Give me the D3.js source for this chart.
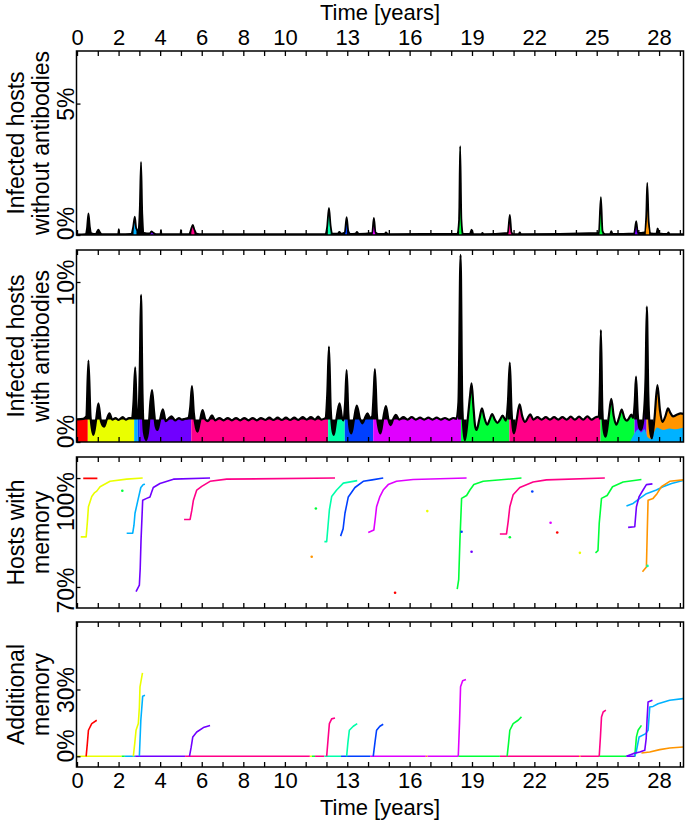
<!DOCTYPE html>
<html><head><meta charset="utf-8">
<script src="https://cdn.jsdelivr.net/npm/d3@7"></script>
<style>
body{margin:0;background:#fff;}
svg{display:block;font-family:"Liberation Sans",Arial,Helvetica,sans-serif;}
</style></head><body>
<svg id="c" width="685" height="822"></svg>
<script>
// ---------------- DATA ----------------
const C = {red:"#ff0000", yellow:"#eaff00", cyan:"#00b2ff", blue:"#0040ff", violet:"#7000ff",
  pink:"#ff0088", aqua:"#00ffaa", magenta:"#e000ff", green:"#00ff38", orange:"#ff9500"};

const xTickLabels = [0,2,4,6,8,10,13,16,19,22,25,28];
const xTickYears = [0,1,2,3,4,5,6,7,8,9,10,11,12,13,14,15,16,17,18,19,20,21,22,23,24,25,26,27,28,29];

// Panel 1: infected hosts without antibodies (%)
const p1Time = [0,0.40,0.48,0.55,0.62,0.70,0.90,0.98,1.03,1.09,1.2,1.98,2.01,2.04,2.6,2.70,2.78,2.85,2.95,3.02,3.08,3.14,3.22,3.5,3.58,3.65,3.8,4.02,4.04,4.06,4.98,5.0,5.02,5.4,5.5,5.57,5.65,5.75,6.0,
 11.95,12.03,12.12,12.2,12.3,12.55,12.62,12.7,12.88,12.97,13.05,13.15,13.4,13.47,13.55,14.2,14.28,14.36,14.5,14.8,14.86,14.95,
 18.3,18.38,18.43,18.49,18.56,18.9,18.98,19.06,19.45,19.5,19.56,20.72,20.82,20.9,21.0,21.25,21.3,21.36,
 25.1,25.2,25.28,25.4,25.65,25.7,25.76,26.8,26.9,26.98,27.3,27.38,27.43,27.5,27.6,27.87,27.93,28.0,28.4,28.45,28.5,29.2];
const p1Value = [0.02,0.03,0.25,0.82,0.3,0.06,0.04,0.15,0.2,0.12,0.03,0.03,0.22,0.03,0.04,0.3,0.7,0.25,0.15,1.0,2.78,0.8,0.08,0.06,0.14,0.1,0.03,0.03,0.19,0.03,0.03,0.19,0.03,0.04,0.25,0.38,0.2,0.05,0.03,
 0.03,0.3,1.03,0.35,0.05,0.05,0.12,0.05,0.1,0.68,0.15,0.04,0.05,0.12,0.04,0.08,0.65,0.1,0.04,0.04,0.1,0.03,
 0.05,0.6,3.38,0.6,0.05,0.04,0.2,0.04,0.03,0.08,0.03,0.08,0.76,0.1,0.03,0.04,0.1,0.03,
 0.08,1.44,0.15,0.03,0.04,0.15,0.04,0.06,0.53,0.08,0.1,0.7,1.98,0.5,0.06,0.05,0.25,0.06,0.04,0.1,0.04,0.03];
const p1SegStart = [2.72,3.5,5.5,12.05,12.9,14.22,18.38,20.75,25.13,26.84,27.36];
const p1SegEnd   = [2.86,3.7,5.65,12.2,13.05,14.35,18.5,20.9,25.28,26.97,27.52];
const p1SegColor = [C.cyan,C.violet,C.pink,C.aqua,C.blue,C.magenta,C.green,C.pink,C.green,C.violet,C.orange];

// Panel 2: infected hosts with antibodies (%)
const p2Time = [0.0,0.3,0.45,0.55,0.65,0.79,0.92,1.03,1.15,1.3,1.43,1.56,1.7,1.85,2.0,2.2,2.35,2.5,2.65,2.72,2.8,2.88,2.95,3.02,3.08,3.15,3.22,3.33,3.45,3.53,3.61,3.7,3.78,3.87,3.98,4.13,4.27,4.4,4.55,4.72,4.9,5.05,5.2,5.35,5.45,5.53,5.62,5.72,5.8,5.9,6.04,6.18,6.3,6.49,6.65,6.85,7.05,7.25,7.45,7.65,7.85,8.05,8.25,8.45,8.65,8.85,9.05,9.25,9.45,9.65,9.85,10.05,10.25,10.45,10.65,10.85,11.05,11.25,11.45,11.6,11.75,11.95,
 12.04,12.12,12.2,12.28,12.35,12.45,12.63,12.75,12.82,12.9,12.97,13.05,13.12,13.2,13.32,13.46,13.6,13.73,13.85,13.97,14.1,14.2,14.27,14.33,14.42,14.52,14.6,14.72,14.86,14.98,15.09,15.2,15.34,15.5,15.7,15.9,16.1,16.3,16.5,16.7,16.9,17.1,17.3,17.5,17.7,17.9,18.1,18.25,
 18.35,18.45,18.53,18.6,18.66,18.8,18.9,18.98,19.07,19.15,19.22,19.35,19.48,19.6,19.73,19.85,19.97,20.1,20.22,20.35,20.47,20.63,20.73,20.82,20.9,20.96,21.02,21.15,21.29,21.42,21.55,21.68,21.8,21.95,22.15,22.35,22.55,22.75,22.95,23.15,23.35,23.55,23.75,23.95,24.15,24.35,24.55,24.75,24.95,
 25.1,25.15,25.2,25.27,25.35,25.43,25.57,25.7,25.82,25.94,26.07,26.2,26.33,26.45,26.56,26.66,26.75,26.83,26.89,26.97,27.05,27.13,27.25,27.35,27.41,27.48,27.56,27.65,27.78,27.92,28.04,28.16,28.3,28.43,28.55,28.67,28.85,29.04,29.2];
const p2Value = [1.42,1.45,1.6,5.08,1.6,0.44,1.4,2.42,1.3,0.96,1.4,1.79,1.4,1.5,1.38,1.55,1.4,1.5,1.5,2.5,4.67,1.8,1.6,4.5,9.19,3.0,0.6,0.12,1.0,2.5,3.25,2.0,1.0,0.75,1.3,2.04,1.3,1.45,1.6,1.35,1.5,1.4,1.45,1.5,2.2,3.5,1.8,0.9,0.65,1.2,2.0,1.4,1.3,1.66,1.35,1.5,1.35,1.5,1.35,1.5,1.35,1.5,1.35,1.5,1.35,1.5,1.38,1.52,1.38,1.52,1.38,1.52,1.38,1.52,1.38,1.55,1.4,1.55,1.4,1.58,1.4,1.5,
 3.0,5.96,2.2,0.8,0.44,1.2,2.42,1.5,1.35,2.5,4.5,1.8,0.8,0.54,1.4,2.27,1.5,1.17,1.5,1.79,1.5,1.6,3.0,4.56,1.8,0.8,0.54,1.4,2.25,1.4,1.06,1.4,1.69,1.4,1.55,1.4,1.55,1.4,1.52,1.4,1.52,1.4,1.52,1.4,1.5,1.38,1.5,1.45,
 2.5,11.69,2.5,0.6,0.12,1.5,2.8,3.67,2.2,1.0,0.75,1.4,2.1,1.5,1.08,1.4,1.75,1.4,1.19,1.4,1.65,1.33,2.5,4.96,2.0,0.9,0.54,1.4,2.35,1.6,1.25,1.5,1.73,1.4,1.55,1.4,1.55,1.4,1.55,1.4,1.55,1.4,1.58,1.4,1.58,1.4,1.6,1.4,1.55,
 1.6,3.5,7.0,2.0,0.6,0.33,1.5,2.69,1.6,1.08,1.5,2.02,1.5,1.33,1.5,1.71,1.5,2.5,4.08,1.8,0.9,0.75,1.5,4.0,8.46,3.0,0.8,0.23,1.5,3.56,2.0,1.25,1.6,2.1,1.8,1.6,1.7,1.79,1.75];
const p2BandLevel = 1.4;
const p2SegStart = [0,0.52,2.75,2.92,3.02,5.5,12.08,12.88,14.25,18.47,20.8,25.18,26.82,27.4];
const p2SegEnd   = [0.52,2.75,2.92,3.02,5.5,12.08,12.88,14.25,18.47,20.8,25.18,26.82,27.4,29.3];
const p2SegColor = [C.red,C.yellow,C.cyan,C.blue,C.violet,C.pink,C.aqua,C.blue,C.magenta,C.green,C.pink,C.green,C.violet,C.orange];
const p2CyanTime  = [26.6,26.8,27.0,27.13,27.3,27.45,27.6,27.75,27.9,28.2,28.5,28.8,29.2];
const p2CyanValue = [0,0.5,0.8,0.6,0.8,0.3,0.2,0.6,0.9,0.75,0.85,0.8,0.9];
const p2BlackStart = [0,18.33,20.7,25.1,26.8,27.3];
const p2BlackEnd   = [16.0,18.75,21.1,25.5,27.2,27.72];

// Panel 3: hosts with memory (%)
const memRed     = [[0.3,99.9],[0.98,99.9]];
const memYellow  = [[0.18,83.8],[0.44,83.8],[0.5,88],[0.55,92.1],[0.71,94.9],[0.85,96],[0.95,96.4],[1.11,97.6],[1.59,99.1],[2.39,99.7],[3.16,100]];
const memCyan    = [[2.39,84.8],[2.68,84.8],[2.74,87],[2.79,90.3],[2.95,94.4],[3.07,97.4],[3.19,98.2],[3.27,98.3]];
const memViolet  = [[2.84,68.7],[3.0,70.5],[3.04,75],[3.08,82.9],[3.16,93.9],[3.35,94.4],[3.51,94.8],[3.6,96.3],[3.67,97.4],[3.99,98.5],[4.64,99.7],[6.40,100]];
const memPink    = [[5.15,88.6],[5.44,88.6],[5.52,91],[5.6,93.9],[5.76,96.7],[6.0,97.7],[6.4,99.1],[7.2,99.7],[12.41,100]];
const memAqua    = [[11.9,82.5],[12.01,82.5],[12.07,86.5],[12.14,91.2],[12.25,94.9],[12.49,96.7],[12.81,98.6],[13.48,99.3]];
const memBlue    = [[12.68,84.0],[12.8,86],[12.89,90.3],[13.05,94.8],[13.37,97.4],[13.77,99.1],[14.2,99.5],[14.73,100]];
const memMagenta = [[14.01,85.0],[14.28,85.7],[14.35,89],[14.41,92.1],[14.57,94.9],[14.73,96.7],[14.97,98.2],[15.37,99.1],[16.17,99.6],[18.74,100]];
const memGreen1  = [[18.29,69.4],[18.36,72],[18.42,82.9],[18.5,94.4],[18.74,95.2],[18.9,96.7],[19.09,98.2],[19.54,99.1],[21.38,100]];
const memPink2   = [[20.34,84.6],[20.66,84.6],[20.74,88],[20.82,92.1],[20.98,95.4],[21.3,97.4],[21.94,98.9],[22.58,99.5],[25.39,100]];
const memGreen2  = [[24.94,79.4],[25.06,80],[25.12,87.5],[25.23,94.4],[25.5,95.2],[25.76,97.6],[26.27,98.9],[27.15,99.6]];
const memViolet2 = [[26.51,86.4],[26.83,86.6],[26.91,92.1],[27.04,94.9],[27.23,96.7],[27.39,98.2],[27.68,98.4]];
const memCyan2   = [[26.43,92.3],[26.75,93.0],[27.07,94.4],[27.39,95.7],[27.87,96.7],[28.19,97.6],[28.6,98.5],[29.15,99.3]];
const memOrange  = [[27.2,74.2],[27.39,75.5],[27.43,85],[27.47,93.9],[27.71,94.4],[27.9,95.7],[28.11,97.6],[28.51,99.1],[29.15,99.5]];
const memDots = [[2.18,96.5,C.green],[11.49,91.6,C.green],[11.29,78.3,C.orange],[16.85,90.9,C.yellow],[15.3,68.4,C.red],
  [18.98,79.7,C.violet],[18.5,85.2,C.blue],[21.9,96.3,C.blue],[20.82,83.7,C.green],[22.78,87.7,C.magenta],[23.1,85.0,C.red],[24.19,79.4,C.yellow],[27.44,75.8,C.aqua]];

// Panel 4: additional memory (%)
const addRed     = [[0.44,0],[0.5,6],[0.55,11.7],[0.71,14.7],[0.95,16.2]];
const addYellow  = [[2.71,0],[2.78,6],[2.84,11.7],[2.95,14.7],[3.0,22],[3.03,31.2],[3.15,37.5]];
const addCyan    = [[3.0,0],[3.07,16.2],[3.16,27.0],[3.27,27.4]];
const addViolet  = [[5.41,0],[5.49,4],[5.57,8.7],[5.76,10.9],[6.08,12.9],[6.4,13.8]];
const addPink    = [[12.01,0],[12.08,8],[12.14,14.7],[12.25,16.8],[12.41,17.2]];
const addAqua    = [[12.97,0],[13.03,6],[13.1,11.7],[13.29,13.5],[13.48,14.7]];
const addBlue    = [[14.25,0],[14.33,6],[14.41,11.7],[14.57,13.5],[14.73,14.4]];
const addMagenta = [[18.34,0],[18.4,15],[18.45,31.2],[18.55,33.9],[18.71,34.5]];
const addGreen1  = [[20.69,0],[20.76,6],[20.82,11.7],[20.98,14.7],[21.22,16.2],[21.38,17.7]];
const addPink2   = [[25.12,0],[25.18,9],[25.23,17.7],[25.31,19.9],[25.44,20.7]];
const addGreen2  = [[26.83,0],[26.91,8.7],[26.99,11.7],[27.15,13.9]];
const addViolet2 = [[26.43,0],[26.75,1.2],[27.07,1.9],[27.31,2.7],[27.38,8],[27.42,16.2],[27.47,24.4],[27.68,25.2]];
const addCyan2   = [[26.83,0],[26.9,2],[27.04,8.7],[27.36,10.2],[27.47,11.7],[27.52,18],[27.55,22.1],[27.71,22.4],[27.95,23.6],[28.51,25.2],[29.15,25.9]];
const addOrange  = [[27.15,1.5],[27.55,1.9],[28.03,3.0],[28.51,3.7],[29.15,4.2]];
const baseStart = [0.0,2.15,2.3,2.8,5.2,11.2,11.3,11.45,11.9,12.7,14.1,16.78,16.86,18.34,20.34,24.15,24.22,25.12,26.43];
const baseEnd   = [2.15,2.3,2.8,5.2,11.2,11.3,11.45,11.9,12.7,14.1,16.78,16.86,18.34,20.34,24.15,24.22,25.12,26.43,26.85];
const baseColor = [C.yellow,C.green,C.cyan,C.violet,C.pink,C.yellow,C.green,C.pink,C.aqua,C.blue,C.magenta,C.orange,C.magenta,C.green,C.pink,C.orange,C.pink,C.green,C.violet];

// ---------------- DRAW ----------------
const svg = d3.select("#c");
const defs = svg.append("defs");
const FS = 23;
const x = d3.scaleLinear().domain([0, 29.15]).range([77, 683]);
const LEFT = 76.5, RIGHT = 683.5;

const panels = [
  {top:51,  bottom:235, domain:[0,7],        ticks:[0,5],    shift:[-12,0], title:["Infected hosts","without antibodies"]},
  {top:250, bottom:442, domain:[0,12],       ticks:[0,10],   shift:[-11,0], title:["Infected hosts","with antibodies"]},
  {top:457, bottom:608, domain:[64.2,105.8], ticks:[70,100], shift:[3,23],  title:["Hosts with","memory"]},
  {top:622, bottom:767, domain:[-4.8,60.3],  ticks:[0,30],   shift:[-11,0], title:["Additional","memory"]}
];
panels.forEach(p => p.y = d3.scaleLinear().domain(p.domain).range([p.bottom, p.top]));

let cid = 0;
function clip(x0, y0, w, h) {
  const id = "cl" + (cid++);
  defs.append("clipPath").attr("id", id).append("rect")
    .attr("x", x0).attr("y", y0).attr("width", w).attr("height", h);
  return `url(#${id})`;
}

const groups = panels.map(p => svg.append("g")
  .attr("clip-path", clip(LEFT, p.top, RIGHT - LEFT, p.bottom - p.top)));

const smooth = d3.curveMonotoneX;

// ---- Panel 1
{
  const p = panels[0], g = groups[0], y = p.y;
  const pts = p1Time.map((t, i) => ({t, v: p1Value[i]}));
  const area = d3.area().curve(smooth).x(d => x(d.t)).y0(y(0)).y1(d => y(d.v));
  const line = d3.line().curve(smooth).x(d => x(d.t)).y(d => y(d.v));
  g.append("path").datum(pts).attr("d", area).attr("fill", "#000");
  p1SegStart.forEach((t0, i) => {
    g.append("path").datum(pts).attr("d", area).attr("fill", p1SegColor[i])
      .attr("clip-path", clip(x(t0), p.top, x(p1SegEnd[i]) - x(t0), p.bottom - p.top));
  });
  g.append("path").datum(pts).attr("d", line).attr("fill", "none")
    .attr("stroke", "#000").attr("stroke-width", 1.8).attr("stroke-linejoin", "round");
}

// ---- Panel 2
{
  const p = panels[1], g = groups[1], y = p.y;
  const pts = p2Time.map((t, i) => ({t, v: p2Value[i]}));
  const area = d3.area().curve(smooth).x(d => x(d.t)).y0(y(0)).y1(d => y(d.v));
  const line = d3.line().curve(smooth).x(d => x(d.t)).y(d => y(d.v));
  p2SegStart.forEach((t0, i) => {
    g.append("path").datum(pts).attr("d", area).attr("fill", p2SegColor[i])
      .attr("clip-path", clip(x(t0), p.top, x(p2SegEnd[i]) - x(t0), p.bottom - p.top));
  });
  const cy = p2CyanTime.map((t, i) => ({t, v: p2CyanValue[i]}));
  g.append("path").datum(cy).attr("d", area).attr("fill", C.cyan);
  const bArea = d3.area().curve(smooth).x(d => x(d.t)).y0(y(p2BandLevel)).y1(d => y(d.v));
  p2BlackStart.forEach((t0, i) => {
    g.append("path").datum(pts).attr("d", bArea).attr("fill", "#000")
      .attr("clip-path", clip(x(t0), p.top, x(p2BlackEnd[i]) - x(t0), p.bottom - p.top));
  });
  g.append("path").datum(pts).attr("d", line).attr("fill", "none")
    .attr("stroke", "#000").attr("stroke-width", 2.2).attr("stroke-linejoin", "round");
}

// ---- Panel 3
{
  const p = panels[2], g = groups[2], y = p.y;
  const line = d3.line().x(d => x(d[0])).y(d => y(d[1]));
  const series = [[memRed,C.red],[memYellow,C.yellow],[memCyan,C.cyan],[memViolet,C.violet],[memPink,C.pink],
    [memAqua,C.aqua],[memBlue,C.blue],[memMagenta,C.magenta],[memGreen1,C.green],[memPink2,C.pink],
    [memGreen2,C.green],[memCyan2,C.cyan],[memViolet2,C.violet],[memOrange,C.orange]];
  series.forEach(([d, c]) => g.append("path").datum(d).attr("d", line).attr("fill", "none")
    .attr("stroke", c).attr("stroke-width", 1.6).attr("stroke-linejoin", "round"));
  g.selectAll("circle.dot").data(memDots).join("circle").attr("class", "dot")
    .attr("cx", d => x(d[0])).attr("cy", d => y(d[1])).attr("r", 1.3).attr("fill", d => d[2]);
}

// ---- Panel 4
{
  const p = panels[3], g = groups[3], y = p.y;
  const line = d3.line().x(d => x(d[0])).y(d => y(d[1]));
  baseStart.forEach((t0, i) => g.append("path").datum([[t0, 0], [baseEnd[i], 0]]).attr("d", line)
    .attr("fill", "none").attr("stroke", baseColor[i]).attr("stroke-width", 1.6));
  const series = [[addRed,C.red],[addYellow,C.yellow],[addCyan,C.cyan],[addViolet,C.violet],[addPink,C.pink],
    [addAqua,C.aqua],[addBlue,C.blue],[addMagenta,C.magenta],[addGreen1,C.green],[addPink2,C.pink],
    [addGreen2,C.green],[addOrange,C.orange],[addCyan2,C.cyan],[addViolet2,C.violet]];
  series.forEach(([d, c]) => g.append("path").datum(d).attr("d", line).attr("fill", "none")
    .attr("stroke", c).attr("stroke-width", 1.6).attr("stroke-linejoin", "round"));
}

// ---- Frames, ticks, labels
panels.forEach((p, idx) => {
  svg.append("rect").attr("x", LEFT).attr("y", p.top).attr("width", RIGHT - LEFT)
    .attr("height", p.bottom - p.top).attr("fill", "none").attr("stroke", "#000").attr("stroke-width", 1.5);
  svg.append("g").attr("transform", `translate(0,${p.top})`)
    .call(d3.axisTop(x).tickValues(xTickYears).tickSize(-5).tickFormat(""))
    .call(g => g.select(".domain").remove())
    .call(g => g.selectAll("line").attr("stroke-width", 1.3));
  svg.append("g").attr("transform", `translate(0,${p.bottom})`)
    .call(d3.axisBottom(x).tickValues(xTickYears).tickSize(-5).tickFormat(""))
    .call(g => g.select(".domain").remove())
    .call(g => g.selectAll("line").attr("stroke-width", 1.3));
  const ya = svg.append("g").attr("transform", `translate(${LEFT},0)`)
    .call(d3.axisLeft(p.y).tickValues(p.ticks).tickSize(-4).tickFormat(d => d + "%"))
    .call(g => g.select(".domain").remove())
    .call(g => g.selectAll("line").attr("stroke-width", 1.3));
  ya.selectAll("text").attr("font-size", FS).attr("font-family", null).attr("fill", "#000")
    .attr("text-anchor", "middle").attr("transform", "rotate(-90)")
    .attr("dy", 0).attr("y", -2.3).attr("x", (d, i) => -p.shift[i]);
  const cy = (p.top + p.bottom) / 2;
  svg.append("text").attr("transform", `translate(24,${cy}) rotate(-90)`).attr("text-anchor", "middle")
    .attr("font-size", FS).text(p.title[0]);
  svg.append("text").attr("transform", `translate(48.5,${cy}) rotate(-90)`).attr("text-anchor", "middle")
    .attr("font-size", FS).text(p.title[1]);
});

// x tick labels (top and bottom)
svg.append("g").attr("transform", `translate(0,${panels[0].top})`)
  .call(d3.axisTop(x).tickValues(xTickLabels).tickSize(0).tickPadding(6))
  .call(g => g.select(".domain").remove())
  .call(g => g.selectAll("text").attr("font-size", 22).attr("font-family", null).attr("fill", "#000"));
svg.append("g").attr("transform", `translate(0,${panels[3].bottom})`)
  .call(d3.axisBottom(x).tickValues(xTickLabels).tickSize(0).tickPadding(5))
  .call(g => g.select(".domain").remove())
  .call(g => g.selectAll("text").attr("font-size", 22).attr("font-family", null).attr("fill", "#000"));

svg.append("text").attr("x", 380).attr("y", 20).attr("text-anchor", "middle").attr("font-size", 22).text("Time [years]");
svg.append("text").attr("x", 380).attr("y", 815).attr("text-anchor", "middle").attr("font-size", 22).text("Time [years]");
</script></body></html>
